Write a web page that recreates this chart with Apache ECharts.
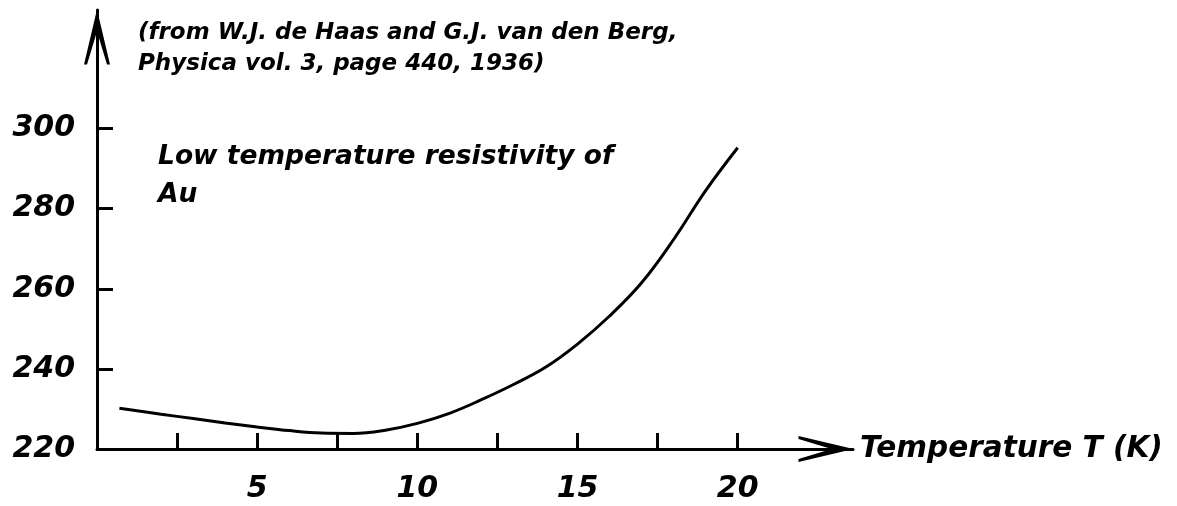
<!DOCTYPE html>
<html>
<head>
<meta charset="utf-8">
<title>Low temperature resistivity of Au</title>
<script src="https://cdn.jsdelivr.net/npm/echarts@6/dist/echarts.min.js"></script>
<style>
  html, body { margin: 0; padding: 0; background: #fff; }
  #chart { width: 1177px; height: 506px; }
</style>
</head>
<body>
<div id="chart"></div>
<script>
  let tempK = [0.7, 2, 3, 4, 5, 6, 7, 8, 9, 10, 11, 12, 13, 14, 15, 16, 17, 18, 19, 20];
  let resist = [230.2, 228.7, 227.6, 226.5, 225.5, 224.6, 224.0, 223.9, 224.7, 226.4, 228.9, 232.3, 236.1, 240.4, 246.2, 253.2, 261.5, 272.3, 284.5, 295.2];
  let xTicks = [2.5, 5, 7.5, 10, 12.5, 15, 17.5, 20];
  let xLabels = [5, 10, 15, 20];
  let yTicks = [240, 260, 280, 300];
  let yLabels = [220, 240, 260, 280, 300];

  let fontFamily = 'DejaVu Sans';
  // thin open arrow head, tip at the top
  let arrowPath = 'path://M0,0 L13,55 L10,55 L0,22 L-10,55 L-13,55 Z';

  let points = [];
  for (let i = 0; i < tempK.length; i++) {
    points.push([tempK[i], resist[i]]);
  }

  let option = {
    animation: false,
    backgroundColor: '#fff',
    title: [{
      text: '(from W.J. de Haas and G.J. van den Berg,\nPhysica vol. 3, page 440, 1936)',
      left: 138,
      top: 18,
      padding: 0,
      textStyle: {
        color: '#000',
        fontFamily: fontFamily,
        fontStyle: 'italic',
        fontWeight: 'bold',
        fontSize: 23,
        lineHeight: 31
      }
    }, {
      text: 'Low temperature resistivity of\nAu',
      left: 158,
      top: 138,
      padding: 0,
      textStyle: {
        color: '#000',
        fontFamily: fontFamily,
        fontStyle: 'italic',
        fontWeight: 'bold',
        fontSize: 26.5,
        lineHeight: 38
      }
    }],
    grid: {
      left: 97,
      right: 324,
      top: 10,
      bottom: 57
    },
    xAxis: {
      type: 'value',
      min: 0,
      max: 23.6,
      name: 'Temperature T (K)',
      nameLocation: 'end',
      nameGap: 7,
      nameTextStyle: {
        color: '#000',
        fontFamily: fontFamily,
        fontStyle: 'italic',
        fontWeight: 'bold',
        fontSize: 29.5,
        verticalAlign: 'middle'
      },
      splitLine: { show: false },
      axisLine: {
        show: true,
        lineStyle: { color: '#000', width: 3 },
        symbol: ['none', arrowPath],
        symbolSize: [26, 55],
        symbolOffset: [0, -27]
      },
      axisTick: {
        show: true,
        inside: true,
        length: 16,
        customValues: xTicks,
        lineStyle: { color: '#000', width: 3 }
      },
      axisLabel: {
        show: true,
        margin: 25,
        customValues: xLabels,
        color: '#000',
        fontFamily: fontFamily,
        fontStyle: 'italic',
        fontWeight: 'bold',
        fontSize: 30
      }
    },
    yAxis: {
      type: 'value',
      min: 220,
      max: 329.6,
      splitLine: { show: false },
      axisLine: {
        show: true,
        lineStyle: { color: '#000', width: 3 },
        symbol: ['none', arrowPath],
        symbolSize: [26, 55],
        symbolOffset: [0, -27]
      },
      axisTick: {
        show: true,
        inside: true,
        length: 16,
        customValues: yTicks,
        lineStyle: { color: '#000', width: 3 }
      },
      axisLabel: {
        show: true,
        margin: 22,
        customValues: yLabels,
        color: '#000',
        fontFamily: fontFamily,
        fontStyle: 'italic',
        fontWeight: 'bold',
        fontSize: 30
      }
    },
    series: [{
      type: 'line',
      data: points,
      smooth: 0.4,
      showSymbol: false,
      lineStyle: { color: '#000', width: 3 }
    }]
  };

  let myChart = echarts.init(document.getElementById('chart'));
  myChart.setOption(option);
</script>
</body>
</html>
